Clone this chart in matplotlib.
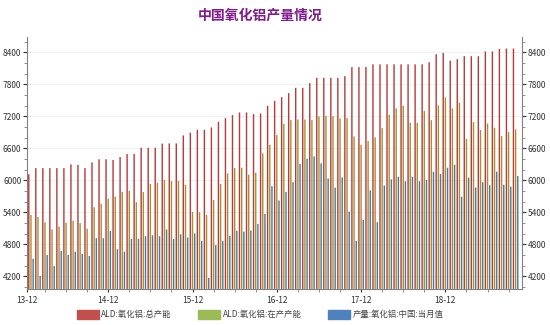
import matplotlib.pyplot as plt
import matplotlib.ticker as mticker
import matplotlib.patches as mpatches
import numpy as np

plt.rcParams['font.family'] = ['Noto Sans CJK SC', 'DejaVu Sans']

# 月份: 2014-01 .. 2019-10
months = ['%02d-%02d' % (14 + i // 12, i % 12 + 1) for i in range(70)]

total_cap = [6112, 6230, 6230, 6230, 6230, 6230, 6300, 6290, 6230, 6337,
             6395, 6395, 6383, 6437, 6494, 6494, 6612, 6612, 6612, 6690,
             6693, 6693, 6843, 6897, 6950, 6950, 6993, 7100, 7168, 7225,
             7275, 7275, 7243, 7256, 7400, 7493, 7562, 7637, 7737, 7737,
             7825, 7925, 7925, 7925, 7925, 7956, 8125, 8125, 8130, 8178,
             8178, 8178, 8178, 8178, 8178, 8178, 8178, 8218, 8368, 8393,
             8247, 8275, 8331, 8331, 8331, 8420, 8420, 8465, 8475, 8475]

run_cap = [5350, 5312, 5212, 5080, 5133, 5202, 5243, 5196, 5093, 5496,
           5562, 5655, 5696, 5784, 5803, 5590, 5780, 5933, 5950, 6005,
           5987, 5993, 5918, 5405, 5400, 5350, 5631, 5931, 6131, 6231,
           6237, 6106, 6143, 6506, 6668, 6850, 7062, 7131, 7143, 7143,
           7131, 7200, 7206, 7206, 7162, 7168, 6825, 6668, 6737, 6806,
           6981, 7231, 7350, 7400, 7081, 7081, 7300, 7131, 7406, 7556,
           7350, 7456, 6775, 7093, 6943, 7068, 6987, 6831, 6906, 6956]

output = [4528, 4206, 4600, 4390, 4674, 4600, 4660, 4618, 4580, 4915,
          4915, 5050, 4706, 4662, 4900, 4903, 4952, 4968, 4950, 5078,
          4900, 4987, 4928, 5003, 4860, 4170, 4785, 4860, 4955, 5055,
          5037, 5060, 5180, 5368, 5890, 5622, 5784, 5965, 6306, 6406,
          6450, 6318, 6037, 5862, 6056, 5412, 4862, 5256, 5812, 5215,
          5903, 6018, 6068, 5984, 6068, 5984, 6006, 6162, 6118, 6237,
          6293, 5693, 6050, 5865, 5965, 5908, 6162, 5918, 5881, 6081]

labels = ['ALD:氧化铝:总产能', 'ALD:氧化铝:在产产能', '产量:氧化铝:中国:当月值']
colors = ['#C0504D', '#9BBB59', '#4F81BD']
bar_colors = ['#B83A3A', '#A89030', '#3F7E9E']

fig = plt.figure(figsize=(5.5, 3.25), dpi=100)
ax = fig.add_axes([0.049, 0.111, 0.900, 0.775])

x = np.arange(len(months))
y0 = 3962
wd = 0.2
for i, vals in enumerate([total_cap, run_cap, output]):
    v = np.array(vals)
    ax.bar(x + (i - 1) * 0.31, v - y0, bottom=y0, width=wd,
           color=bar_colors[i], linewidth=0, snap=False)

x_left = -0.57
ax.set_xlim(x_left, 69.9)
ax.set_ylim(y0, 8690)

ax.yaxis.set_major_locator(mticker.MultipleLocator(600))
ax.yaxis.set_minor_locator(mticker.MultipleLocator(200))
ax.grid(axis='y', color='#eeeeee', linewidth=0.6)
ax.set_axisbelow(True)

yr_pos = [x_left] + [i for i, m in enumerate(months) if m.endswith('-12')]
yr_lab = ['13-12'] + [m for m in months if m.endswith('-12')]
ax.set_xticks(yr_pos)
ax.set_xticklabels(yr_lab)
ax.set_xticks([i for i, m in enumerate(months) if int(m[3:]) % 3 == 0], minor=True)

ax.spines['top'].set_visible(False)
for s in ['left', 'right', 'bottom']:
    ax.spines[s].set_color('#808080')
    ax.spines[s].set_linewidth(0.8)

ax.tick_params(axis='y', which='both', right=True, labelright=True,
               labelsize=6, colors='#333333', direction='out')
ax.tick_params(axis='y', which='major', length=3)
ax.tick_params(axis='y', which='minor', length=2, color='#808080')
ax.tick_params(axis='x', which='both', labelsize=6, colors='#333333', length=2)
ax.tick_params(axis='x', which='minor', color='#808080')
ax.tick_params(axis='y', pad=1)
ax.tick_params(axis='x', pad=3)

fig.text(0.473, 0.953, '中国氧化铝产量情况', ha='center', va='center',
         fontsize=10, fontweight='bold', color='#7F1A8A')

handles = [mpatches.Patch(color=c, label=l) for c, l in zip(colors, labels)]
fig.legend(handles=handles, loc='center', bbox_to_anchor=(0.473, 0.033),
           ncol=3, frameon=False, fontsize=6, handlelength=2.6,
           handleheight=1.3, columnspacing=3.2, handletextpad=0.3,
           labelcolor='#444444')

fig.savefig('out.png', dpi=100)
